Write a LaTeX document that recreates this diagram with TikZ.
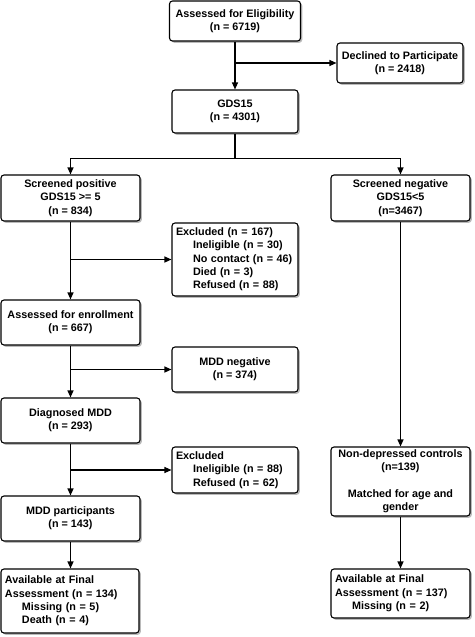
\documentclass[tikz,border=0pt]{standalone}
\usepackage{fontspec}
\setmainfont{Liberation Sans}
\usetikzlibrary{arrows.meta,shadows}
\begin{document}
\begin{tikzpicture}[
  x=1pt, y=-1pt,
  box/.style={rectangle, draw, rounded corners=3pt, line width=1.1pt, fill=white,
    drop shadow={shadow xshift=1.8pt, shadow yshift=-1.8pt, opacity=0.45, fill=black!60},
    inner xsep=4pt, inner ysep=2pt, font=\bfseries\fontsize{10.8}{13.3}\selectfont, align=center},
  wide/.style={box, minimum width=139pt},
  narrow/.style={box, minimum width=126pt},
  listbox/.style={box, align=left, text width=#1},
  arr/.style={-{Triangle[length=7pt,width=6pt]}, line width=1.1pt}
]
\useasboundingbox (0,0) rectangle (474,637);

% Screening
\node (assessed-elig) at (235,21) [box, minimum width=131pt, minimum height=40pt] {Assessed for Eligibility\\(n = 6719)};
\node (declined) at (400,63) [narrow, minimum height=40pt] {Declined to Participate\\(n = 2418)};
\node (gds15) at (235,111.5) [narrow, minimum height=43pt] {GDS15\\(n = 4301)};

% Depressed arm
\node (screened-pos) at (70.5,198) [wide, minimum height=46pt] {Screened positive\\GDS15 >= 5\\(n = 834)};
\node (excluded-a) at (235,259.5) [listbox=118pt, minimum height=73pt] {Excluded (n = 167)\\
  \hspace*{17pt}Ineligible (n = 30)\\
  \hspace*{17pt}No contact (n = 46)\\
  \hspace*{17pt}Died (n = 3)\\
  \hspace*{17pt}Refused (n = 88)};
\node (assessed-enrol) at (70.5,322.5) [wide, minimum height=45pt] {Assessed for enrollment\\(n = 667)};
\node (mdd-neg) at (235,369.5) [narrow, minimum height=45pt] {MDD negative\\(n = 374)};
\node (diagnosed) at (70.5,420.5) [wide, minimum height=45pt] {Diagnosed MDD\\(n = 293)};
\node (excluded-b) at (235,470) [listbox=118pt, minimum height=46pt] {Excluded\\
  \hspace*{17pt}Ineligible (n = 88)\\
  \hspace*{17pt}Refused (n = 62)};
\node (mdd-part) at (70.5,518.5) [wide, minimum height=45pt] {MDD participants\\(n = 143)};
\node (final-mdd) at (70,601) [listbox=130pt, minimum height=64pt] {Available at Final\\
  Assessment (n = 134)\\
  \hspace*{17pt}Missing (n = 5)\\
  \hspace*{17pt}Death (n = 4)};

% Control arm
\node (screened-neg) at (400.5,198) [wide, minimum height=46pt] {Screened negative\\GDS15<5\\(n=3467)};
\node (controls) at (400.5,481.5) [wide, minimum height=69pt] {Non-depressed controls\\(n=139)\\[13.3pt]Matched for age and\\gender};
\node (final-ctrl) at (400.5,593.5) [listbox=131pt, minimum height=49pt] {Available at Final\\
  Assessment (n = 137)\\
  \hspace*{17pt}Missing (n = 2)};

% Connections
\draw[arr] (assessed-elig) -- (gds15);
\coordinate (decl-branch) at (assessed-elig.south |- declined.west);
\draw[arr] (decl-branch) -- (declined);

\path (gds15.south) ++(0,25) coordinate (split);
\draw[line width=1.1pt] (gds15) -- (split);
\draw[arr] (split) -| (screened-pos);
\draw[arr] (split) -| (screened-neg);

\draw[arr] (screened-pos) -- (assessed-enrol);
\coordinate (excl-a-branch) at (screened-pos.south |- excluded-a.west);
\draw[arr] (excl-a-branch) -- (excluded-a);
\draw[arr] (assessed-enrol) -- (diagnosed);
\coordinate (neg-branch) at (assessed-enrol.south |- mdd-neg.west);
\draw[arr] (neg-branch) -- (mdd-neg);
\draw[arr] (diagnosed) -- (mdd-part);
\coordinate (excl-b-branch) at (diagnosed.south |- excluded-b.west);
\draw[arr] (excl-b-branch) -- (excluded-b);
\draw[arr] (mdd-part) -- (final-mdd.north -| mdd-part.south);

\draw[arr] (screened-neg) -- (controls);
\draw[arr] (controls) -- (final-ctrl);

\end{tikzpicture}
\end{document}
